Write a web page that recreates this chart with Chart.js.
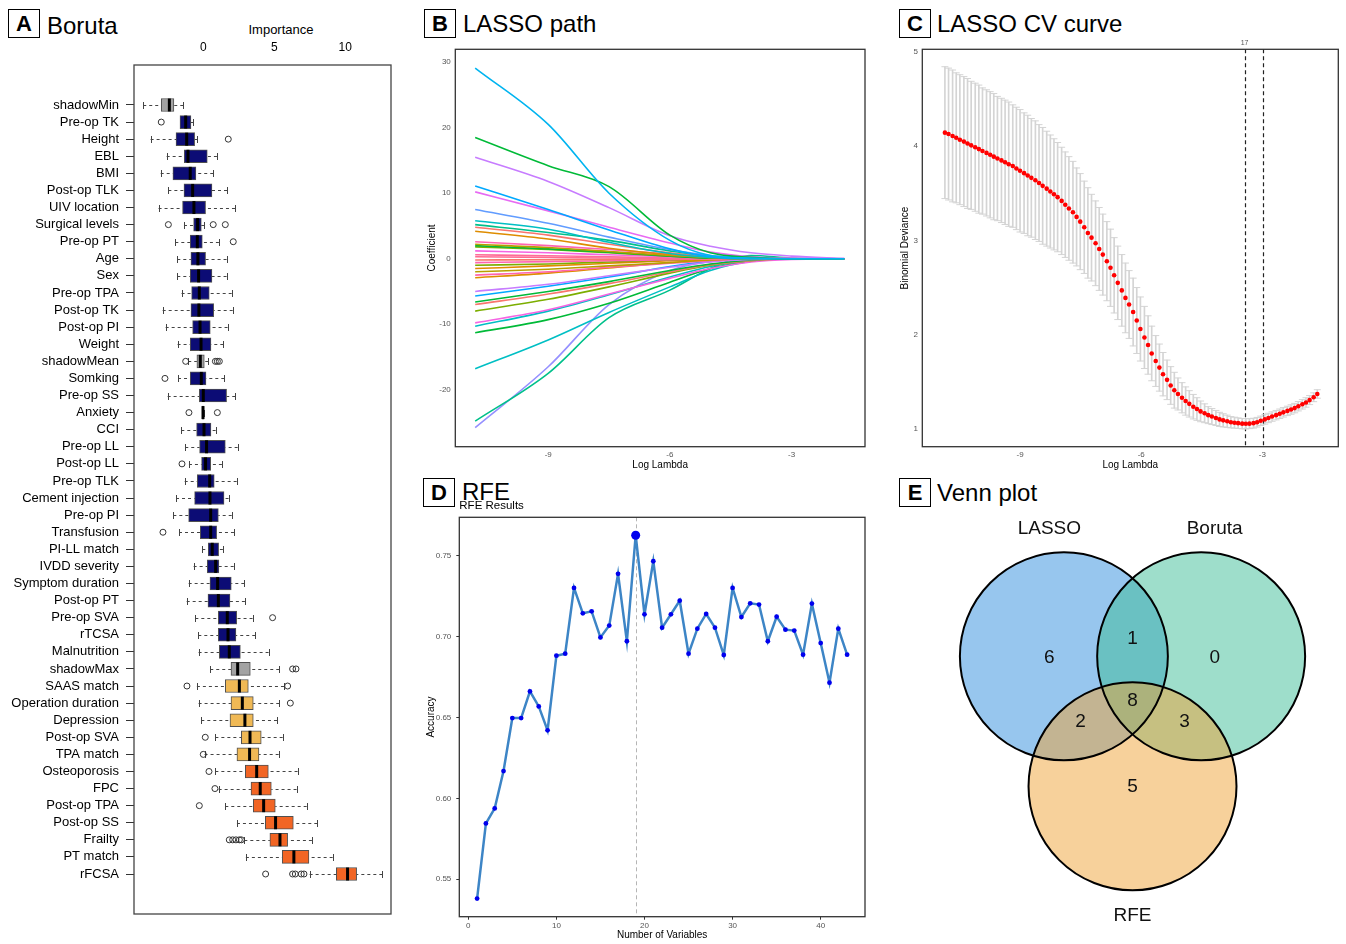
<!DOCTYPE html>
<html>
<head>
<meta charset="utf-8">
<script src="https://cdn.jsdelivr.net/npm/chart.js@4.4.0/dist/chart.umd.min.js"></script>
<style>
  body { margin: 0; background: #fff; width: 1346px; height: 944px; position: relative; overflow: hidden;
         font-family: "Liberation Sans", Arial, Helvetica, sans-serif; }
  canvas { position: absolute; }
  .lab { position: absolute; width: 30px; height: 27px; border: 1.5px solid #000; font-weight: bold;
         font-size: 22px; text-align: center; line-height: 28px; }
  .ttl { position: absolute; font-size: 24px; line-height: 24px; white-space: nowrap; }
  .axt { position: absolute; font-size: 13px; line-height: 16px; width: 120px; text-align: center; }
</style>
</head>
<body>
<div class="lab" style="left:8px;top:9px">A</div><div class="ttl" style="left:47px;top:14px">Boruta</div>
<div class="lab" style="left:424px;top:9px">B</div><div class="ttl" style="left:463px;top:12px">LASSO path</div>
<div class="lab" style="left:899px;top:9px">C</div><div class="ttl" style="left:937px;top:12px">LASSO CV curve</div>
<div class="lab" style="left:423px;top:478px">D</div><div class="ttl" style="left:462px;top:480px">RFE</div>
<div class="lab" style="left:899px;top:478px">E</div><div class="ttl" style="left:937px;top:481px">Venn plot</div>
<div class="axt" style="left:221px;top:22px">Importance</div>

<canvas id="boruta" width="400" height="944" style="left:0;top:0"></canvas>
<canvas id="path" width="460" height="440" style="left:415px;top:40px"></canvas>
<canvas id="cv" width="456" height="450" style="left:890px;top:30px"></canvas>
<canvas id="rfe" width="460" height="449" style="left:415px;top:495px"></canvas>
<canvas id="venn" width="446" height="444" style="left:900px;top:500px"></canvas>

<script>
// ---- A: Boruta importance ----
const borutaFeatures = ["shadowMin", "Pre-op TK", "Height", "EBL", "BMI", "Post-op TLK", "UIV location",
  "Surgical levels", "Pre-op PT", "Age", "Sex", "Pre-op TPA", "Post-op TK", "Post-op PI", "Weight",
  "shadowMean", "Somking", "Pre-op SS", "Anxiety", "CCI", "Pre-op LL", "Post-op LL", "Pre-op TLK",
  "Cement injection", "Pre-op PI", "Transfusion", "PI-LL match", "IVDD severity", "Symptom duration",
  "Post-op PT", "Pre-op SVA", "rTCSA", "Malnutrition", "shadowMax", "SAAS match", "Operation duration",
  "Depression", "Post-op SVA", "TPA match", "Osteoporosis", "FPC", "Post-op TPA", "Post-op SS",
  "Frailty", "PT match", "rFCSA"];
const borutaMin = [-4.23, -1.64, -3.71, -2.58, -3.00, -2.46, -3.15, -1.36, -1.97, -1.83, -1.83, -1.53, -2.86,
  -2.65, -1.81, -1.06, -1.78, -2.51, -0.07, -1.55, -1.27, -1.01, -1.31, -1.92, -2.11, -1.71, -0.07, -0.68,
  -1.03, -1.17, -0.56, -0.35, -0.33, 0.49, -0.45, -0.33, -0.14, 0.85, 0.09, 0.85, 1.08, 1.55, 2.37, 2.89,
  3.00, 7.49];
const borutaQ1 = [-2.96, -1.64, -1.92, -1.34, -2.14, -1.36, -1.46, -0.68, -0.92, -0.87, -0.92, -0.82, -0.87,
  -0.75, -0.92, -0.45, -0.92, -0.28, -0.07, -0.47, -0.26, -0.12, -0.42, -0.61, -1.03, -0.21, 0.35, 0.28,
  0.47, 0.33, 1.06, 1.06, 1.13, 1.95, 1.55, 1.95, 1.88, 2.68, 2.37, 2.96, 3.36, 3.52, 4.37, 4.69, 5.56, 9.37];
const borutaMedian = [-2.39, -1.24, -1.17, -1.08, -0.92, -0.75, -0.66, -0.40, -0.42, -0.38, -0.33, -0.28, -0.31,
  -0.23, -0.16, -0.21, -0.14, 0.00, -0.02, 0.05, 0.23, 0.16, 0.45, 0.47, 0.52, 0.52, 0.63, 0.87, 1.01, 1.06,
  1.69, 1.74, 1.83, 2.42, 2.54, 2.75, 2.93, 3.29, 3.26, 3.76, 4.01, 4.25, 5.09, 5.40, 6.38, 10.16];
const borutaQ3 = [-2.07, -0.87, -0.61, 0.28, -0.52, 0.61, 0.16, -0.14, -0.07, 0.16, 0.61, 0.42, 0.73, 0.49,
  0.54, 0.07, 0.19, 1.64, 0.03, 0.54, 1.55, 0.52, 0.77, 1.46, 1.06, 0.94, 1.08, 1.10, 1.97, 1.88, 2.35, 2.30,
  2.61, 3.31, 3.17, 3.52, 3.52, 4.08, 3.92, 4.58, 4.79, 5.07, 6.34, 5.94, 7.44, 10.80];
const borutaMax = [-1.41, -0.70, -0.42, 0.96, 0.70, 1.67, 2.23, 0.05, 1.10, 1.64, 1.64, 2.00, 2.07, 1.71, 1.41,
  0.35, 1.48, 2.25, 0.05, 0.87, 2.42, 1.31, 2.35, 1.78, 2.00, 2.16, 1.38, 2.14, 2.89, 2.93, 3.47, 3.66, 4.60,
  5.35, 5.68, 5.35, 5.19, 5.59, 5.31, 6.64, 6.57, 7.28, 8.03, 7.65, 9.11, 12.61];
const borutaOutliers = [[], [-2.96], [1.76], [], [], [], [], [-2.46, 0.70, 1.55], [2.11], [], [], [], [], [], [],
  [-1.24, 0.85, 0.99, 1.13], [-2.70], [], [-1.01, 0.99], [], [], [-1.50], [], [], [], [-2.84], [], [], [], [],
  [4.88], [], [], [6.29, 6.53], [-1.15, 5.94], [6.13], [], [0.14], [0.00], [0.40], [0.82], [-0.28], [],
  [1.83, 2.07, 2.30, 2.54, 2.68], [], [4.39, 6.29, 6.48, 6.90, 7.09]];
const borutaDecision = ["shadow", "rejected", "rejected", "rejected", "rejected", "rejected", "rejected",
  "rejected", "rejected", "rejected", "rejected", "rejected", "rejected", "rejected", "rejected", "shadow",
  "rejected", "rejected", "rejected", "rejected", "rejected", "rejected", "rejected", "rejected", "rejected",
  "rejected", "rejected", "rejected", "rejected", "rejected", "rejected", "rejected", "rejected", "shadow",
  "tentative", "tentative", "tentative", "tentative", "tentative", "confirmed", "confirmed", "confirmed",
  "confirmed", "confirmed", "confirmed", "confirmed"];
const borutaTicks = [0, 5, 10];

// ---- B: LASSO coefficient paths ----
const lassoLogLambda = [-10.8, -9, -7.5, -6, -5, -4, -3, -1.7];
const lassoPaths = [
  [29.1, 20.5, 10, 2.8, 0.5, 0.1, 0, 0],
  [18.5, 14.2, 11, 3.6, 0.9, 0.2, 0, 0],
  [15.5, 11.8, 7.8, 3.5, 1.9, 0.9, 0.4, 0.05],
  [11.1, 7.5, 4.4, 1.5, 0.3, 0, 0, 0],
  [10.2, 7.3, 4.8, 2.4, 1.0, 0.3, 0.1, 0],
  [7.5, 5.4, 3.3, 1.4, 0.5, 0.1, 0, 0],
  [5.8, 4.5, 2.5, 0.8, 0.2, 0, 0, 0],
  [5.2, 4.0, 2.8, 1.2, 0.4, 0.2, 0, 0],
  [4.8, 3.6, 2.2, 0.9, 0.3, 0, 0, 0],
  [4.2, 3.0, 1.6, 0.6, 0.2, 0, 0, 0],
  [2.6, 2.0, 1.4, 0.7, 0.3, 0.1, 0, 0],
  [2.2, 1.7, 1.1, 0.5, 0.2, 0, 0, 0],
  [2.0, 1.5, 1.0, 0.4, 0.1, 0, 0, 0],
  [1.8, 1.4, 0.9, 0.4, 0.1, 0, 0, 0],
  [1.2, 0.9, 0.6, 0.3, 0.1, 0, 0, 0],
  [0.6, 0.45, 0.3, 0.1, 0, 0, 0, 0],
  [0.3, 0.2, 0.1, 0.05, 0, 0, 0, 0],
  [-0.2, -0.15, -0.1, 0, 0, 0, 0, 0],
  [-0.6, -0.45, -0.3, -0.15, 0, 0, 0, 0],
  [-1.0, -0.8, -0.5, -0.2, 0, 0, 0, 0],
  [-1.5, -1.1, -0.7, -0.3, -0.1, 0, 0, 0],
  [-2.0, -1.6, -1.1, -0.6, -0.2, 0, 0, 0],
  [-2.5, -2.0, -1.3, -0.7, -0.3, 0, 0, 0],
  [-2.9, -2.2, -1.4, -0.6, -0.2, 0, 0, 0],
  [-5.0, -3.9, -2.6, -1.3, -0.5, -0.1, 0, 0],
  [-5.7, -4.2, -2.8, -1.2, -0.4, 0, 0, 0],
  [-6.6, -5.0, -3.5, -1.8, -0.8, -0.2, 0, 0],
  [-7.0, -5.4, -3.8, -2.0, -0.9, -0.3, 0, 0],
  [-8.0, -6.2, -4.3, -2.2, -1.0, -0.3, 0, 0],
  [-9.8, -7.8, -5.4, -3.0, -1.5, -0.5, -0.1, 0],
  [-10.3, -8.0, -5.5, -2.8, -1.2, -0.3, 0, 0],
  [-11.3, -9.3, -6.8, -3.6, -1.5, -0.4, 0, 0],
  [-16.8, -12.4, -8.2, -4.3, -1.8, -0.4, 0, 0],
  [-24.8, -17.5, -9.0, -4.8, -1.5, 0.5, 0.1, 0],
  [-25.8, -16.5, -7.0, -1.8, -0.4, 0, 0, 0]
];
const lassoXTicks = [-9, -6, -3];
const lassoYTicks = [-20, -10, 0, 10, 20, 30];

// ---- C: LASSO cross-validation ----
const cvLogLambda = [-10.86, -10.77, -10.67, -10.58, -10.49, -10.39, -10.30, -10.21, -10.11, -10.02,
  -9.93, -9.83, -9.74, -9.65, -9.56, -9.46, -9.37, -9.28, -9.18, -9.09,
  -9.00, -8.90, -8.81, -8.72, -8.62, -8.53, -8.44, -8.34, -8.25, -8.16,
  -8.07, -7.97, -7.88, -7.79, -7.69, -7.60, -7.51, -7.41, -7.32, -7.23,
  -7.13, -7.04, -6.95, -6.85, -6.76, -6.67, -6.58, -6.48, -6.39, -6.30,
  -6.20, -6.11, -6.02, -5.92, -5.83, -5.74, -5.64, -5.55, -5.46, -5.36,
  -5.27, -5.18, -5.09, -4.99, -4.90, -4.81, -4.71, -4.62, -4.53, -4.43,
  -4.34, -4.25, -4.15, -4.06, -3.97, -3.87, -3.78, -3.69, -3.60, -3.50,
  -3.41, -3.32, -3.22, -3.13, -3.04, -2.94, -2.85, -2.76, -2.66, -2.57,
  -2.48, -2.38, -2.29, -2.20, -2.11, -2.01, -1.92, -1.83, -1.73, -1.64];
const cvMean = [4.145, 4.13, 4.11, 4.09, 4.07, 4.05, 4.03, 4.01, 3.99, 3.97,
  3.95, 3.93, 3.91, 3.89, 3.87, 3.85, 3.83, 3.81, 3.79, 3.765,
  3.74, 3.715, 3.69, 3.665, 3.64, 3.61, 3.58, 3.55, 3.52, 3.49,
  3.46, 3.42, 3.38, 3.34, 3.30, 3.25, 3.20, 3.14, 3.08, 3.03,
  2.97, 2.91, 2.85, 2.78, 2.71, 2.63, 2.55, 2.47, 2.39, 2.32,
  2.24, 2.15, 2.06, 1.97, 1.89, 1.80, 1.72, 1.65, 1.58, 1.52,
  1.46, 1.41, 1.37, 1.33, 1.295, 1.265, 1.235, 1.21, 1.185, 1.165,
  1.145, 1.13, 1.115, 1.10, 1.09, 1.08, 1.07, 1.065, 1.06, 1.055,
  1.053, 1.055, 1.06, 1.07, 1.085, 1.10, 1.115, 1.13, 1.145, 1.16,
  1.175, 1.19, 1.205, 1.22, 1.24, 1.26, 1.28, 1.305, 1.335, 1.37];
const cvSE = [0.70, 0.70, 0.70, 0.69, 0.69, 0.69, 0.69, 0.68, 0.68, 0.68,
  0.67, 0.67, 0.67, 0.67, 0.66, 0.66, 0.66, 0.66, 0.65, 0.65,
  0.65, 0.64, 0.64, 0.63, 0.63, 0.62, 0.62, 0.61, 0.60, 0.59,
  0.58, 0.57, 0.56, 0.55, 0.54, 0.52, 0.51, 0.49, 0.48, 0.46,
  0.45, 0.44, 0.43, 0.42, 0.41, 0.40, 0.39, 0.38, 0.37, 0.36,
  0.36, 0.35, 0.34, 0.33, 0.31, 0.29, 0.27, 0.25, 0.23, 0.21,
  0.20, 0.19, 0.17, 0.16, 0.15, 0.14, 0.13, 0.12, 0.11, 0.10,
  0.09, 0.085, 0.08, 0.075, 0.07, 0.065, 0.06, 0.058, 0.056, 0.055,
  0.054, 0.053, 0.052, 0.051, 0.05, 0.05, 0.05, 0.05, 0.05, 0.05,
  0.05, 0.05, 0.05, 0.05, 0.05, 0.05, 0.05, 0.048, 0.047, 0.045];
const cvLambdaMin = -3.44;
const cvLambda1se = -2.98;
const cvNonzeroAtMin = 17;
const cvXTicks = [-9, -6, -3];
const cvYTicks = [1, 2, 3, 4, 5];

// ---- D: RFE ----
const rfeVariables = [1, 2, 3, 4, 5, 6, 7, 8, 9, 10, 11, 12, 13, 14, 15, 16, 17, 18, 19, 20, 21, 22,
  23, 24, 25, 26, 27, 28, 29, 30, 31, 32, 33, 34, 35, 36, 37, 38, 39, 40, 41, 42, 43];
const rfeAccuracy = [0.538, 0.5845, 0.5938, 0.6169, 0.6497, 0.6497, 0.6662, 0.6569, 0.6421, 0.6883,
  0.6895, 0.7302, 0.7145, 0.7157, 0.6996, 0.7069, 0.7389, 0.6972, 0.7628, 0.7139, 0.7467, 0.7056,
  0.7139, 0.7223, 0.6895, 0.7050, 0.7141, 0.7056, 0.6887, 0.7302, 0.7122, 0.7207, 0.7199, 0.6972,
  0.7124, 0.7044, 0.7038, 0.6889, 0.7205, 0.6961, 0.6716, 0.7050, 0.6889];
const rfeBest = 19;
const rfeXTicks = [0, 10, 20, 30, 40];
const rfeYTicks = [0.55, 0.60, 0.65, 0.70, 0.75];

// ---- E: Venn ----
const vennSets = ["LASSO", "Boruta", "RFE"];
const vennRegions = ["LASSO only", "Boruta only", "RFE only", "LASSO & Boruta", "LASSO & RFE", "Boruta & RFE", "all three"];
const vennCounts = [6, 0, 5, 1, 2, 3, 8];

// ------------------------------------------------------------------
const FONT = '"Liberation Sans", Arial, Helvetica, sans-serif';
Chart.defaults.font.family = FONT;
Chart.defaults.color = '#000';
Chart.defaults.animation = false;
Chart.defaults.responsive = false;
Chart.defaults.events = [];
Chart.defaults.plugins.legend.display = false;
Chart.defaults.plugins.tooltip.enabled = false;

const fixW = w => s => { s.width = w; };
const fixH = h => s => { s.height = h; };
const setTicks = vals => s => { s.ticks = vals.map(v => ({ value: v })); };
const noGrid = { display: false, drawTicks: false };

// box around the plotting region
const framePlugin = {
  id: 'frame',
  afterDatasetsDraw(chart, args, opts) {
    const a = chart.chartArea, ctx = chart.ctx;
    ctx.save();
    ctx.strokeStyle = opts.color || '#333';
    ctx.lineWidth = opts.width || 1;
    ctx.strokeRect(a.left, a.top, a.right - a.left, a.bottom - a.top);
    ctx.restore();
  }
};

// vertical reference lines (dashed)
const vlinePlugin = {
  id: 'vlines',
  beforeDatasetsDraw(chart, args, opts) {
    const { ctx, chartArea: a, scales: { x } } = chart;
    ctx.save();
    ctx.strokeStyle = opts.color;
    ctx.lineWidth = opts.width;
    ctx.setLineDash(opts.dash);
    opts.values.forEach(v => {
      const px = Math.round(x.getPixelForValue(v)) + 0.5;
      ctx.beginPath();
      ctx.moveTo(px, a.top);
      ctx.lineTo(px, a.bottom);
      ctx.stroke();
    });
    ctx.restore();
  }
};

// whiskers, caps and medians for the Boruta boxes
const whiskerPlugin = {
  id: 'whiskers',
  beforeDatasetsDraw(chart) {
    const { ctx, scales: { x, y } } = chart;
    ctx.save();
    ctx.strokeStyle = '#444';
    ctx.lineWidth = 1;
    borutaFeatures.forEach((f, i) => {
      const py = Math.round(y.getPixelForValue(i)) + 0.5;
      ctx.setLineDash([3, 3]);
      ctx.beginPath();
      ctx.moveTo(x.getPixelForValue(borutaMin[i]), py);
      ctx.lineTo(x.getPixelForValue(borutaQ1[i]), py);
      ctx.moveTo(x.getPixelForValue(borutaMax[i]), py);
      ctx.lineTo(x.getPixelForValue(borutaQ3[i]), py);
      ctx.stroke();
      ctx.setLineDash([]);
      ctx.beginPath();
      [borutaMin[i], borutaMax[i]].forEach(v => {
        const px = Math.round(x.getPixelForValue(v)) + 0.5;
        ctx.moveTo(px, py - 3.5);
        ctx.lineTo(px, py + 3.5);
      });
      ctx.stroke();
    });
    ctx.restore();
  },
  afterDatasetsDraw(chart) {
    const { ctx, scales: { x, y } } = chart;
    ctx.save();
    ctx.strokeStyle = '#000';
    ctx.lineWidth = 3;
    borutaMedian.forEach((m, i) => {
      const py = y.getPixelForValue(i), px = x.getPixelForValue(m);
      ctx.beginPath();
      ctx.moveTo(px, py - 6.5);
      ctx.lineTo(px, py + 6.5);
      ctx.stroke();
    });
    ctx.restore();
  }
};

const decisionColor = { shadow: '#a3a3a3', rejected: '#0c0c75', tentative: '#f0b955', confirmed: '#f26524' };

const outlierPoints = [];
borutaOutliers.forEach((arr, i) => arr.forEach(v => outlierPoints.push({ x: v, y: i })));

new Chart(document.getElementById('boruta'), {
  type: 'bar',
  data: {
    datasets: [
      {
        type: 'scatter',
        data: outlierPoints,
        pointStyle: 'circle',
        pointRadius: 3,
        pointBackgroundColor: 'rgba(0,0,0,0)',
        pointBorderColor: '#333',
        pointBorderWidth: 1
      },
      {
        data: borutaQ1.map((q, i) => ({ y: i, x: [q, borutaQ3[i]] })),
        backgroundColor: borutaDecision.map(d => decisionColor[d]),
        borderColor: '#505050',
        borderWidth: 1,
        borderSkipped: false,
        barThickness: 13
      }
    ]
  },
  options: {
    indexAxis: 'y',
    layout: { padding: { left: 0, top: 0, right: 9, bottom: 30 } },
    scales: {
      x: {
        type: 'linear', position: 'top', min: -4.88, max: 13.22,
        afterBuildTicks: setTicks(borutaTicks),
        afterFit: fixH(65),
        grid: noGrid, border: { display: false },
        ticks: { font: { size: 12 }, padding: 10, color: '#000' }
      },
      y: {
        type: 'linear', reverse: true, min: -2.34, max: 47.34, offset: false,
        afterBuildTicks: setTicks(borutaFeatures.map((f, i) => i)),
        afterFit: fixW(134),
        grid: { drawOnChartArea: false, drawTicks: true, tickLength: 8, color: '#333', offset: false },
        border: { display: false },
        ticks: { autoSkip: false, font: { size: 13 }, padding: 7, color: '#000',
                 callback: v => borutaFeatures[v] }
      }
    },
    plugins: { frame: { color: '#444', width: 1.3 } }
  },
  plugins: [whiskerPlugin, framePlugin]
});

// ---- B ----
const pathColors = ['#00B4F0', '#00BA38', '#C77CFF', '#00A9FF', '#E76BF3', '#619CFF', '#00BFC4', '#00C08B',
  '#F8766D', '#DE8C00', '#FF64B0', '#B79F00', '#00BA38', '#7CAE00', '#F564E3', '#FF6A98', '#FF6C91',
  '#F8766D', '#FF64B0', '#7CAE00', '#E38900', '#B79F00', '#FF64B0', '#DE8C00', '#C77CFF', '#00A9FF',
  '#00BA38', '#F8766D', '#7CAE00', '#F564E3', '#00BFC4', '#00BA38', '#00BFC4', '#00C08B', '#9590FF'];

new Chart(document.getElementById('path'), {
  type: 'scatter',
  data: {
    datasets: lassoPaths.map((p, k) => ({
      data: p.map((v, i) => ({ x: lassoLogLambda[i], y: v })),
      showLine: true,
      borderColor: pathColors[k],
      borderWidth: 1.6,
      pointRadius: 0,
      cubicInterpolationMode: 'monotone'
    }))
  },
  options: {
    layout: { padding: { left: 0, top: 9, right: 10, bottom: 0 } },
    scales: {
      x: {
        type: 'linear', min: -11.29, max: -1.19,
        afterBuildTicks: setTicks(lassoXTicks), afterFit: fixH(33.3),
        grid: noGrid, border: { display: false },
        ticks: { font: { size: 8 }, color: '#555', padding: 3 },
        title: { display: true, text: 'Log Lambda', font: { size: 10 }, padding: { top: 0, bottom: 9 } }
      },
      y: {
        type: 'linear', min: -28.7, max: 31.97,
        afterBuildTicks: setTicks(lassoYTicks), afterFit: fixW(40.3),
        grid: noGrid, border: { display: false },
        ticks: { font: { size: 8 }, color: '#555', padding: 4.5 },
        title: { display: true, text: 'Coefficient', font: { size: 10 }, padding: { top: 11, bottom: 0 } }
      }
    },
    plugins: { frame: { color: '#333', width: 1.3 } }
  },
  plugins: [framePlugin]
});

// ---- C ----
new Chart(document.getElementById('cv'), {
  type: 'scatter',
  data: {
    datasets: [
      {
        order: 0,
        data: cvMean.map((m, i) => ({ x: cvLogLambda[i], y: m })),
        pointRadius: 2.3,
        pointBackgroundColor: '#ff0000',
        pointBorderWidth: 0
      },
      {
        order: 1,
        data: cvMean.map((m, i) => ({ x: cvLogLambda[i], y: m + cvSE[i] }))
          .concat(cvMean.map((m, i) => ({ x: cvLogLambda[i], y: m - cvSE[i] }))),
        pointStyle: 'line',
        pointRadius: 3.5,
        pointBorderColor: '#d4d4d4',
        pointBorderWidth: 1
      },
      {
        order: 2,
        type: 'bar',
        data: cvMean.map((m, i) => ({ x: cvLogLambda[i], y: [m - cvSE[i], m + cvSE[i]] })),
        backgroundColor: '#d4d4d4',
        barThickness: 1
      }
    ]
  },
  options: {
    layout: { padding: { left: 0, top: 0, right: 7.7, bottom: 0 } },
    scales: {
      x: {
        type: 'linear', min: -11.42, max: -1.12, offset: false,
        afterBuildTicks: setTicks(cvXTicks), afterFit: fixH(33.3),
        grid: { display: false, drawTicks: false, offset: false }, border: { display: false },
        ticks: { font: { size: 8 }, color: '#555', padding: 3.5 },
        title: { display: true, text: 'Log Lambda', font: { size: 10 }, padding: { top: 0, bottom: 9 } }
      },
      x2: {
        type: 'linear', position: 'top', axis: 'x', min: -11.42, max: -1.12,
        afterBuildTicks: setTicks([cvLambdaMin]), afterFit: fixH(19.3),
        grid: noGrid, border: { display: false },
        ticks: { font: { size: 7 }, color: '#555', padding: 2.4, callback: () => String(cvNonzeroAtMin) }
      },
      y: {
        type: 'linear', min: 0.81, max: 5.03,
        afterBuildTicks: setTicks(cvYTicks), afterFit: fixW(32.3),
        grid: noGrid, border: { display: false },
        ticks: { font: { size: 8 }, color: '#555', padding: 4.3 },
        title: { display: true, text: 'Binomial Deviance', font: { size: 10 }, padding: { top: 9, bottom: 0 } }
      }
    },
    plugins: {
      frame: { color: '#333', width: 1.3 },
      vlines: { values: [cvLambdaMin, cvLambda1se], color: '#222', width: 1.2, dash: [4, 3] }
    }
  },
  plugins: [framePlugin, vlinePlugin]
});

// ---- D ----
new Chart(document.getElementById('rfe'), {
  type: 'scatter',
  data: {
    datasets: [{
      data: rfeAccuracy.map((a, i) => ({ x: rfeVariables[i], y: a })),
      showLine: true,
      borderColor: '#3d85c6',
      borderWidth: 2.5,
      pointRadius: ctx => rfeVariables[ctx.dataIndex] === rfeBest ? 4.5 : 2.4,
      pointBackgroundColor: '#0000ee',
      pointBorderWidth: 0
    }]
  },
  options: {
    layout: { padding: { left: 0, top: 0, right: 10, bottom: 0 } },
    scales: {
      x: {
        type: 'linear', min: -1.02, max: 45.03,
        afterBuildTicks: setTicks(rfeXTicks), afterFit: fixH(27.3),
        grid: { drawOnChartArea: false, drawTicks: true, tickLength: 3, color: '#333' }, border: { display: false },
        ticks: { font: { size: 8 }, color: '#555', padding: 1 },
        title: { display: true, text: 'Number of Variables', font: { size: 10 }, padding: { top: 0, bottom: 3 } }
      },
      y: {
        type: 'linear', min: 0.5268, max: 0.7739,
        afterBuildTicks: setTicks(rfeYTicks), afterFit: fixW(44.3),
        grid: { drawOnChartArea: false, drawTicks: true, tickLength: 3, color: '#333' }, border: { display: false },
        ticks: { font: { size: 8 }, color: '#555', padding: 5, callback: v => v.toFixed(2) },
        title: { display: true, text: 'Accuracy', font: { size: 10 }, padding: { top: 10.7, bottom: 0 } }
      }
    },
    plugins: {
      title: { display: true, text: 'RFE Results', align: 'start', fullSize: false,
               font: { size: 11.5, weight: 'normal' }, color: '#000', padding: { top: 3.8, bottom: 4.7 } },
      frame: { color: '#333', width: 1.3 },
      vlines: { values: [rfeBest], color: '#b5b5b5', width: 1, dash: [4, 3] }
    }
  },
  plugins: [framePlugin, vlinePlugin]
});

// ---- E ----
// circle layout in units of one circle radius
const vennCenters = [[-0.66, 0.42], [0.66, 0.42], [0, -0.83]];
const vennSetLabelPos = [[-0.80, 1.65], [0.79, 1.65], [0, -2.07]];
const vennCountPos = [[-0.80, 0.41], [0.79, 0.41], [0, -0.83], [0, 0.59], [-0.50, -0.21], [0.50, -0.21], [0, -0.01]];
const vennFill = ['rgba(48,142,222,0.5)', 'rgba(62,190,152,0.5)', 'rgba(240,164,56,0.5)'];
const unitRadius = ctx => {
  const x = ctx.chart.scales.x;
  return x.getPixelForValue(1) - x.getPixelForValue(0);
};

const vennTextPlugin = {
  id: 'vennText',
  afterDatasetsDraw(chart) {
    const { ctx, scales: { x, y } } = chart;
    ctx.save();
    ctx.fillStyle = '#111';
    ctx.textAlign = 'center';
    ctx.textBaseline = 'middle';
    ctx.font = '19px ' + FONT;
    vennCounts.forEach((c, i) => {
      ctx.fillText(String(c), x.getPixelForValue(vennCountPos[i][0]), y.getPixelForValue(vennCountPos[i][1]));
    });
    vennSets.forEach((s, i) => {
      ctx.fillText(s, x.getPixelForValue(vennSetLabelPos[i][0]), y.getPixelForValue(vennSetLabelPos[i][1]));
    });
    ctx.restore();
  }
};

new Chart(document.getElementById('venn'), {
  type: 'scatter',
  data: {
    datasets: [
      {
        order: 0,
        data: vennCenters.map(c => ({ x: c[0], y: c[1] })),
        pointRadius: unitRadius,
        pointBackgroundColor: 'rgba(0,0,0,0)',
        pointBorderColor: '#000',
        pointBorderWidth: 2
      }
    ].concat(vennSets.map((s, i) => ({
      order: 3 - i,
      label: s,
      data: [{ x: vennCenters[i][0], y: vennCenters[i][1] }],
      pointRadius: unitRadius,
      pointBackgroundColor: vennFill[i],
      pointBorderWidth: 0
    })))
  },
  options: {
    layout: { padding: 0 },
    scales: {
      x: { type: 'linear', display: false, min: -2.236, max: 2.053 },
      y: { type: 'linear', display: false, min: -2.346, max: 1.923 }
    }
  },
  plugins: [vennTextPlugin]
});
</script>
</body>
</html>
